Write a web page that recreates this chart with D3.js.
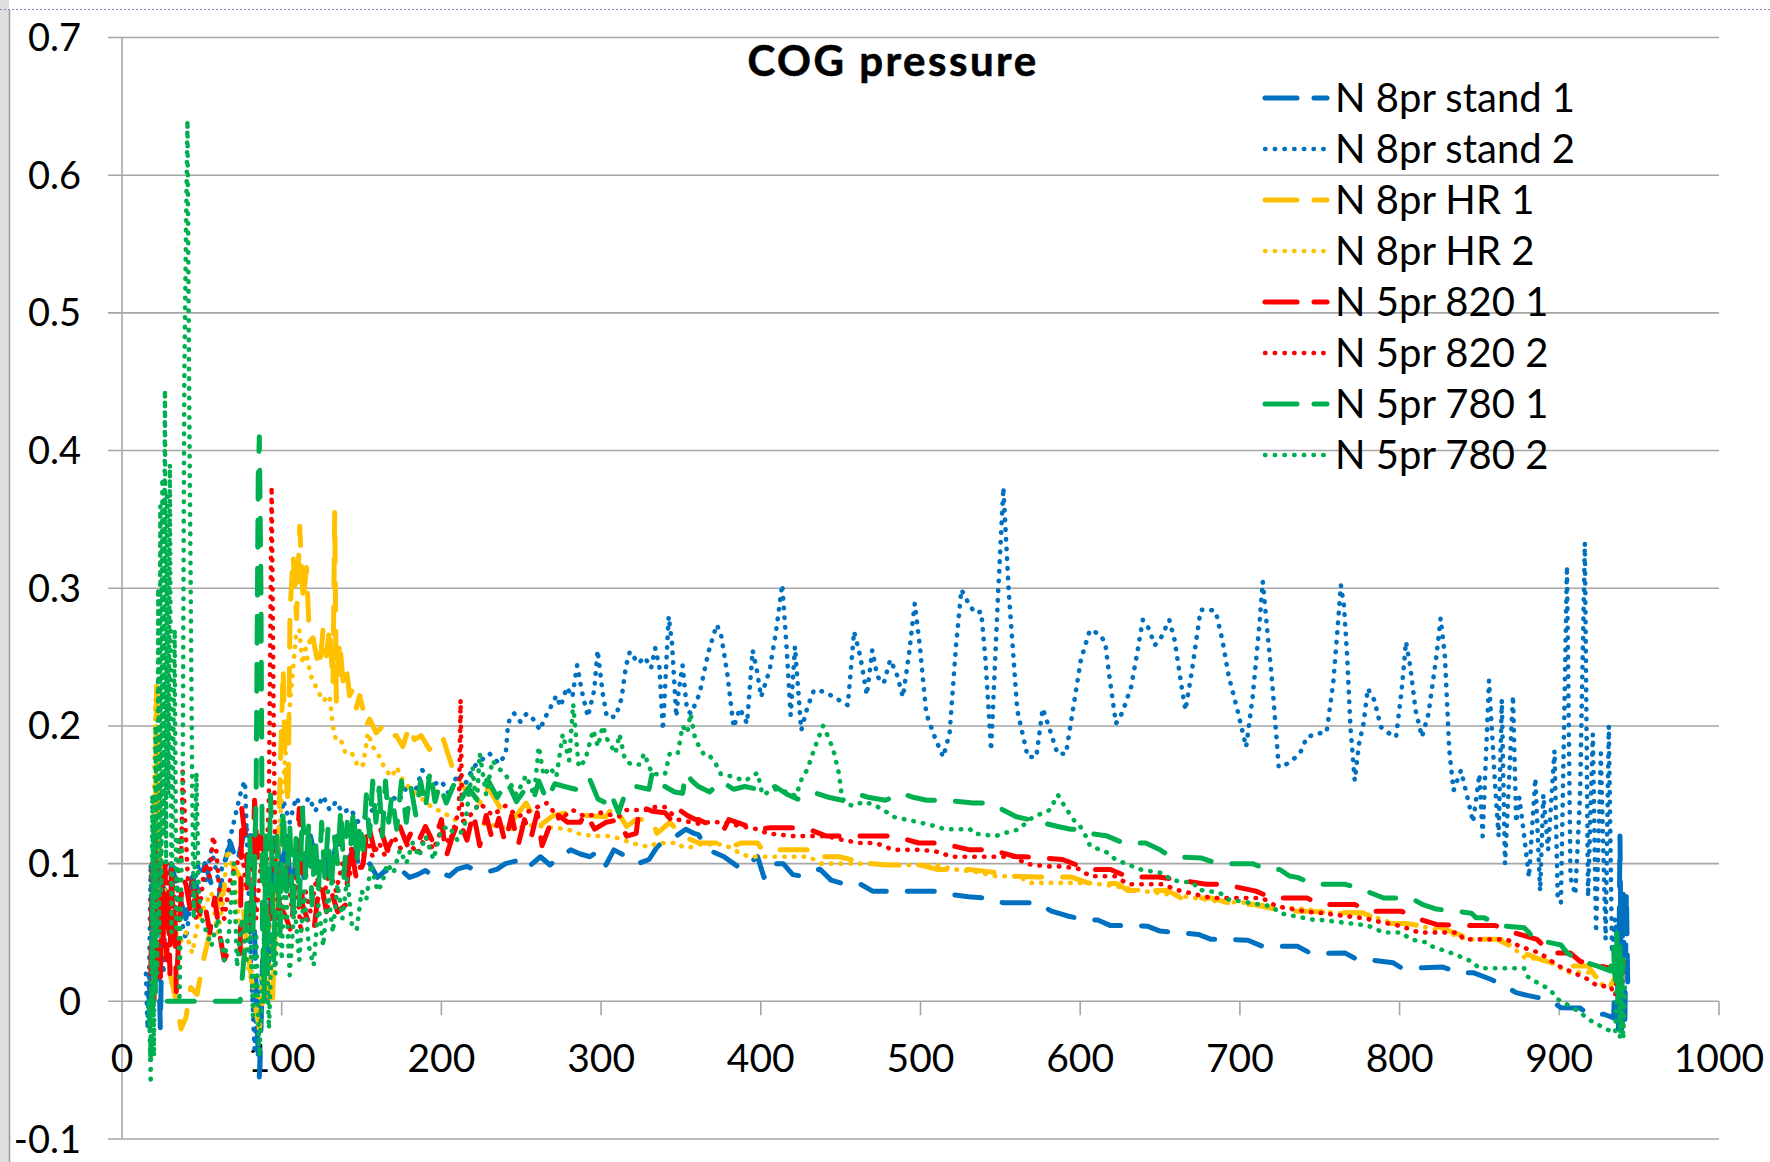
<!DOCTYPE html>
<html><head><meta charset="utf-8">
<script src="https://cdn.jsdelivr.net/npm/d3@7"></script>
<style>
html,body{margin:0;padding:0;background:#fff;}
svg{display:block;}
text{font-family:Lato,"Open Sans",sans-serif;fill:#000;}
</style></head>
<body>
<svg id="chart" width="1770" height="1162"></svg>
<script>
// ---------- DATA ----------
const chartTitle = "COG pressure";
const seriesNames = ["N 8pr stand 1","N 8pr stand 2","N 8pr HR 1","N 8pr HR 2","N 5pr 820 1","N 5pr 820 2","N 5pr 780 1","N 5pr 780 2"];
const xTicks = [0,100,200,300,400,500,600,700,800,900,1000];
const yTicks = [-0.1,0,0.1,0.2,0.3,0.4,0.5,0.6,0.7];

const stand1 = [[17,0],[18,0.025],[19,-0.012],[20,0.03],[21,0.11],[22,0.12],[23,0.03],[24,-0.02],[25,0.05],[26,0.09],[28,0.07],[31,0.1],[35,0.08],[40,0.06],[44,0.09],[48,0.08],[52,0.1],[56,0.085],[60,0.07],[64,0.1],[68,0.115],[72,0.1],[76,0.12],[80,0.13],[82,0.1],[83,0.05],[84,0.01],[85,-0.03],[86,-0.055],[87,-0.02],[88,0.03],[89,0.01],[90,0.06],[91,0.0],[92,0.04],[94,0.1],[96,0.07],[98,0.11],[100,0.09],[103,0.12],[106,0.08],[110,0.11],[114,0.09],[118,0.12],[122,0.1],[126,0.11],[130,0.09],[135,0.12],[140,0.1],[145,0.11],[150,0.095],[155,0.1],[160,0.09],[165,0.095],[170,0.092],[175,0.095],[180,0.09],[185,0.092],[190,0.095],[195,0.091],[200,0.093],[205,0.091],[210,0.096],[216,0.098],[222,0.095],[229,0.094],[235,0.096],[240,0.1],[247,0.102],[253,0.096],[262,0.105],[268,0.099],[274,0.105],[281,0.11],[287,0.107],[293,0.105],[298,0.109],[303,0.099],[308,0.11],[316,0.105],[323,0.1],[330,0.103],[335,0.112],[341,0.118],[347,0.12],[353,0.125],[358,0.122],[361,0.121],[365,0.113],[369,0.109],[377,0.105],[383,0.1],[388,0.096],[398,0.105],[402,0.09],[406,0.1],[414,0.1],[420,0.092],[425,0.091],[437,0.096],[444,0.088],[450,0.086],[461,0.086],[470,0.08],[479,0.08],[488,0.08],[500,0.08],[510,0.08],[520,0.0775],[530,0.076],[541,0.075],[552,0.0715],[562,0.0715],[573,0.0715],[582,0.0655],[592,0.062],[602,0.0594],[611,0.059],[619,0.055],[632,0.055],[642,0.0546],[650,0.051],[661,0.0498],[674,0.0486],[682,0.045],[693,0.045],[705,0.0444],[714,0.04],[722,0.04],[736,0.04],[744,0.035],[754,0.0348],[766,0.035],[774,0.03],[784,0.0297],[796,0.028],[801,0.0244],[815,0.0244],[827,0.0249],[837,0.0208],[846,0.0208],[857,0.016],[864,0.0123],[873,0.0063],[880,0.0043],[894,0.001],[901,-0.0046],[913,-0.0048],[918,-0.0094],[928,-0.0094],[934,-0.012],[936,0.05],[937,-0.02],[938,0.12],[939,-0.02],[940,0.08],[941,-0.02],[942,0.08],[943,0.0]];

const stand2 = [[15,0.02],[16,-0.02],[17,0.02],[18,0.1],[19,0.0],[20,0.13],[21,0.03],[22,0.13],[23,0.05],[24,0.1],[26,0.02],[28,0.09],[30,0.06],[33,0.1],[36,0.065],[40,0.045],[44,0.08],[48,0.1],[52,0.085],[56,0.11],[60,0.09],[64,0.1],[68,0.12],[72,0.14],[75,0.155],[77,0.16],[79,0.09],[81,0.02],[83,-0.035],[85,0.01],[87,-0.02],[89,0.05],[91,0.02],[93,0.08],[95,0.12],[98,0.1],[101,0.146],[105,0.13],[109,0.148],[113,0.14],[117,0.148],[121,0.138],[126,0.149],[130,0.139],[134,0.145],[138,0.137],[143,0.14],[148,0.13],[153,0.135],[158,0.14],[163,0.145],[168,0.15],[173,0.145],[178,0.155],[183,0.15],[188,0.168],[192,0.162],[196,0.158],[200,0.16],[205,0.15],[210,0.165],[215,0.158],[220,0.17],[224,0.174],[230,0.18],[236.3,0.1725],[240.3,0.18],[241.6,0.199],[243,0.2066],[245.6,0.209],[249.5,0.203],[253.4,0.209],[257.4,0.205],[261.9,0.197],[264,0.204],[268,0.2127],[272,0.222],[274.6,0.214],[278.5,0.228],[282,0.221],[285,0.244],[287.8,0.226],[291.7,0.2066],[295.7,0.226],[297.8,0.255],[301,0.2236],[303.6,0.2066],[309,0.2066],[312.8,0.22],[315.5,0.243],[318,0.254],[323.3,0.2455],[327.3,0.25],[331.3,0.242],[333.9,0.2565],[336.5,0.243],[338.7,0.197],[340.5,0.238],[342.3,0.2796],[344.4,0.26],[347.1,0.2066],[348.4,0.2236],[351,0.244],[353.8,0.2114],[356.4,0.209],[361.7,0.2236],[367,0.2528],[372.4,0.2735],[375,0.267],[379,0.238],[383,0.199],[386.9,0.2127],[391.4,0.2017],[394.9,0.255],[397.5,0.2406],[400.2,0.221],[405.5,0.2406],[409.4,0.2674],[413.4,0.3027],[416.1,0.2577],[418.7,0.2078],[421.4,0.2577],[425.3,0.1968],[429.3,0.214],[433.3,0.226],[439.9,0.2248],[449.1,0.2187],[454.5,0.215],[458.4,0.2686],[462.4,0.25],[466.4,0.2224],[469.8,0.255],[473,0.2358],[477,0.231],[481,0.248],[485,0.2382],[489,0.221],[493,0.254],[496.4,0.289],[499.6,0.2577],[503.6,0.209],[508.9,0.192],[514.2,0.1774],[518.2,0.1944],[522.2,0.2577],[525.6,0.299],[530.1,0.289],[534.1,0.282],[538,0.283],[540.7,0.248],[544.2,0.1822],[548.7,0.299],[551.9,0.3732],[555.3,0.2966],[560.6,0.2114],[567.2,0.1774],[572.5,0.1774],[576.5,0.2127],[580.5,0.199],[585.8,0.1798],[591.1,0.1798],[596.4,0.2187],[600.4,0.248],[606.1,0.2697],[611.6,0.267],[615.6,0.261],[618.3,0.2357],[622.4,0.2017],[626.5,0.21],[631.9,0.2284],[636,0.255],[639.2,0.277],[642.8,0.271],[646.8,0.2587],[650.9,0.2648],[655.8,0.277],[659.1,0.2624],[663.2,0.2308],[665.9,0.2114],[670,0.2405],[675.4,0.2842],[680.8,0.2847],[684.9,0.283],[689,0.2624],[693.1,0.2357],[698.5,0.2114],[703.9,0.1847],[708,0.2211],[712.1,0.2721],[714.3,0.3049],[717.5,0.2648],[720.3,0.2308],[724.3,0.1701],[729.8,0.1726],[733.9,0.1762],[738,0.1811],[742,0.192],[748.8,0.1944],[754.3,0.1956],[758.4,0.2308],[761.1,0.2697],[763.2,0.3024],[765.2,0.2867],[767.3,0.2478],[769.2,0.1993],[771.9,0.1604],[774.6,0.1871],[777.4,0.2017],[780.1,0.2272],[784.2,0.2187],[788.2,0.1993],[793.7,0.1944],[797.8,0.192],[801.3,0.226],[804,0.2612],[806.7,0.243],[810,0.2114],[814,0.192],[818.1,0.209],[823,0.2502],[825.7,0.2782],[828.4,0.2502],[831.1,0.1823],[833.8,0.1531],[838.4,0.1677],[842.5,0.148],[846,0.13],[850,0.165],[852,0.12],[856,0.233],[860,0.153],[862,0.12],[864,0.219],[866,0.1],[868,0.148],[871,0.222],[873,0.13],[875,0.148],[878,0.12],[881,0.09],[885,0.162],[888,0.08],[890,0.15],[893,0.11],[897,0.182],[899,0.075],[901,0.0715],[904.8,0.316],[907,0.09],[910,0.0775],[913,0.15],[916,0.333],[918,0.076],[921,0.194],[923,0.05],[926,0.18],[929,0.045],[931,0.2],[933,0.035],[935,0.06],[937,0.04]];

const hr1 = [[20,0.0],[21,0.12],[21.7,0.236],[22.5,0.16],[24,0.08],[26,0.04],[30,0.02],[34,0.0],[37,-0.02],[40,-0.012],[43,0.01],[47,0.005],[51,0.03],[55,0.05],[60,0.07],[65,0.085],[70,0.098],[74,0.09],[77,0.055],[80,0.026],[83,0.0],[86,-0.02],[88,0.0],[91,0.01],[94,-0.005],[96,0.05],[98,0.12],[100.9,0.242],[102,0.18],[104,0.143],[105.2,0.283],[107.2,0.324],[109.3,0.278],[111.3,0.345],[113.4,0.29],[115.5,0.315],[117.5,0.261],[119.6,0.264],[121.7,0.251],[123.8,0.242],[125.9,0.27],[128,0.251],[130,0.272],[132.1,0.23],[133.2,0.355],[134.2,0.218],[136.3,0.262],[138.4,0.232],[140.5,0.242],[142.5,0.222],[144.6,0.227],[146.7,0.213],[148.8,0.222],[150.9,0.212],[152.9,0.2],[155,0.205],[159.2,0.195],[163.3,0.2],[167.5,0.192],[171.7,0.193],[175.8,0.185],[180,0.2],[183.1,0.19],[187.3,0.193],[192.5,0.183],[196.7,0.19],[200.8,0.192],[204,0.18],[208,0.166],[214,0.155],[220,0.15],[226,0.142],[229,0.156],[237,0.14],[245,0.132],[253,0.144],[261,0.127],[270,0.135],[279,0.137],[290,0.135],[303,0.134],[308,0.142],[316,0.127],[322,0.132],[332,0.132],[335,0.122],[343,0.13],[351,0.12],[361,0.115],[372,0.115],[380,0.112],[388,0.115],[398,0.115],[401,0.11],[406,0.11],[420,0.11],[430,0.11],[433,0.105],[438,0.105],[449,0.105],[460,0.102],[469,0.1],[480,0.099],[500,0.099],[511,0.0957],[520,0.0957],[530,0.0957],[544,0.094],[557,0.091],[573,0.0903],[594,0.0903],[606,0.0855],[623,0.0855],[630,0.0804],[655,0.0804],[663,0.075],[682,0.075],[697,0.0703],[709,0.0703],[728,0.0655],[742,0.0655],[758,0.0643],[777,0.0643],[790,0.0565],[804,0.0565],[815,0.0546],[823,0.0546],[845,0.045],[861,0.045],[878,0.035],[888,0.0304],[902,0.0256],[918,0.0256],[924,0.016],[932,0.011],[936,0.02],[938,0.005],[940,0.03]];

const hr2 = [[19,0.05],[20,0.15],[21,0.22],[22,0.1],[23,0.18],[24,0.06],[26,0.1],[28,0.05],[31,0.08],[35,0.04],[40,0.05],[44,0.035],[48,0.06],[52,0.07],[56,0.079],[60,0.05],[63,0.07],[66,0.11],[70,0.093],[74,0.05],[78,0.03],[82,0.01],[86,0.0],[89,0.03],[92,0.01],[95,0.06],[98,0.12],[101,0.16],[104,0.2],[107,0.24],[109,0.266],[111,0.27],[113,0.245],[115,0.256],[118,0.237],[122,0.227],[126,0.218],[130,0.222],[132,0.2],[134,0.19],[137,0.19],[140,0.18],[144,0.18],[148,0.17],[151,0.172],[154,0.195],[157,0.185],[161,0.178],[165,0.168],[169,0.163],[172,0.17],[176,0.16],[180,0.155],[185,0.15],[190,0.145],[195,0.14],[200,0.138],[208,0.132],[220,0.13],[232,0.128],[245,0.125],[255,0.128],[263,0.127],[279,0.125],[285,0.122],[295,0.12],[306,0.12],[312,0.118],[319,0.115],[330,0.112],[335,0.115],[348,0.115],[351,0.112],[356,0.112],[361,0.114],[377,0.114],[388,0.107],[393,0.105],[406,0.105],[430,0.105],[438,0.1],[446,0.1],[470,0.1],[480,0.099],[510,0.099],[520,0.096],[535,0.094],[547,0.0908],[562,0.0908],[568,0.086],[605,0.086],[620,0.084],[640,0.08],[660,0.077],[690,0.072],[700,0.072],[720,0.069],[740,0.067],[769,0.063],[780,0.063],[795,0.057],[812,0.055],[830,0.05],[842,0.045],[864,0.045],[870,0.04],[878,0.032],[891,0.03],[900,0.025],[905,0.021],[921,0.021],[927,0.012],[932,0.011],[936,0.02],[938,0.005],[940,0.015]];

const p820a = [[18,0.02],[19,0.1],[20,0.0],[21,0.12],[22,0.03],[23,0.1],[24,0.01],[25,0.09],[26,0.04],[27,0.1],[28,0.03],[29,0.08],[30,0.02],[31,0.1],[32,0.05],[33,0.07],[34,0.007],[36,0.06],[38,0.09],[40,0.085],[43,0.065],[46,0.08],[49,0.062],[52,0.07],[55,0.05],[58,0.075],[61,0.05],[64,0.03],[66,0.035],[70,0.03],[74,0.035],[75,0.14],[77,0.12],[79,0.09],[81,0.05],[83,0.146],[85,0.1],[87,0.12],[90,0.1],[93,0.06],[96,0.1],[99,0.07],[103,0.06],[106,0.05],[109,0.1],[111,0.14],[113,0.07],[116,0.06],[120,0.05],[123,0.08],[125,0.085],[128,0.065],[131,0.08],[135,0.065],[140,0.07],[143,0.115],[147,0.087],[151,0.1],[154,0.13],[158,0.11],[162,0.125],[166,0.11],[170,0.12],[174,0.127],[178,0.115],[182,0.125],[186,0.117],[190,0.127],[195,0.115],[200,0.132],[203,0.105],[207,0.12],[211,0.132],[216,0.117],[220,0.137],[224,0.113],[228,0.135],[232,0.117],[236,0.133],[240,0.115],[244,0.135],[248,0.113],[252,0.132],[256,0.118],[260,0.137],[263,0.113],[271,0.137],[279,0.13],[287,0.13],[290,0.137],[296,0.125],[303,0.13],[311,0.132],[316,0.12],[322,0.122],[324,0.142],[332,0.138],[340,0.137],[345,0.13],[349,0.139],[354,0.135],[359,0.132],[361,0.132],[370,0.127],[377,0.125],[380,0.132],[390,0.128],[398,0.125],[406,0.126],[422,0.126],[430,0.125],[441,0.12],[451,0.12],[472,0.12],[483,0.12],[499,0.115],[512,0.115],[531,0.11],[544,0.11],[560,0.105],[565,0.105],[589,0.103],[600,0.098],[606,0.0957],[619,0.0957],[630,0.0903],[649,0.0903],[660,0.0884],[679,0.085],[690,0.085],[710,0.08],[720,0.075],[742,0.075],[750,0.0703],[772,0.0703],[780,0.0655],[801,0.0655],[810,0.0606],[823,0.0558],[840,0.055],[860,0.055],[871,0.05],[886,0.045],[895,0.035],[907,0.035],[913,0.029],[932,0.024],[935,0.024],[937,0.04],[939,0.02],[941,0.043]];

const p820b = [[18,0.0],[19,0.09],[20,0.02],[21,0.12],[22,0.05],[23,0.1],[24,0.04],[26,0.08],[28,0.1],[30,0.06],[32,0.09],[34,0.05],[36,0.12],[37,0.1],[38,0.167],[40,0.12],[42,0.07],[44,0.09],[46,0.06],[49,0.07],[52,0.1],[55,0.09],[57,0.12],[59,0.11],[61,0.08],[64,0.06],[68,0.09],[72,0.1],[75,0.11],[78,0.08],[81,0.11],[84,0.06],[87,0.1],[90,0.08],[92,0.15],[93.7,0.374],[95,0.2],[96,0.1],[98,0.06],[100,0.09],[103,0.1],[106,0.07],[109,0.09],[112,0.05],[115,0.08],[118,0.065],[122,0.09],[126,0.075],[130,0.095],[134,0.08],[138,0.1],[142,0.09],[146,0.105],[150,0.095],[153,0.12],[157,0.105],[161,0.115],[165,0.105],[170,0.12],[175,0.11],[180,0.115],[185,0.107],[190,0.12],[195,0.11],[200,0.125],[205,0.115],[209,0.13],[211,0.14],[212,0.219],[213,0.13],[218,0.135],[224,0.144],[232,0.135],[240,0.142],[248,0.134],[258,0.14],[266,0.144],[274,0.132],[282,0.139],[290,0.134],[300,0.137],[311,0.134],[316,0.139],[330,0.139],[332,0.141],[340,0.141],[348,0.132],[361,0.129],[367,0.13],[377,0.13],[388,0.127],[398,0.125],[404,0.122],[420,0.12],[425,0.12],[441,0.12],[452,0.117],[462,0.115],[472,0.115],[483,0.11],[499,0.11],[509,0.109],[520,0.105],[536,0.105],[547,0.105],[560,0.105],[565,0.1],[579,0.098],[589,0.098],[600,0.096],[606,0.0908],[622,0.0908],[630,0.085],[652,0.085],[660,0.081],[682,0.075],[714,0.075],[723,0.069],[742,0.065],[752,0.064],[780,0.06],[782,0.059],[801,0.0546],[812,0.05],[837,0.05],[840,0.045],[867,0.045],[875,0.04],[888,0.035],[899,0.026],[918,0.016],[924,0.011],[932,0.011],[935,0.004],[937,0.03],[939,0.01],[941,0.035]];

const p780a = [[17,0.0],[18,-0.04],[19,0.05],[20,0.13],[21,0.0],[22,0.0],[30,0.0],[40,0.0],[50,0.0],[60,0.0],[70,0.0],[74,0.0],[77,0.04],[80,0.12],[82,0.05],[84,0.15],[85.3,0.38],[86,0.41],[87,0.3],[88,0.05],[89,0.0],[90,0.12],[91,0.02],[93,0.15],[95,0.03],[97,0.12],[99,0.05],[101,0.14],[103,0.08],[105,0.13],[107,0.06],[109,0.12],[111,0.07],[113,0.14],[115,0.09],[117,0.13],[119,0.07],[121,0.12],[123,0.08],[125,0.13],[127,0.09],[129,0.125],[131,0.08],[133,0.12],[135,0.1],[137,0.14],[139,0.09],[141,0.13],[143,0.11],[145,0.14],[147,0.1],[149,0.13],[151,0.11],[153,0.15],[155,0.12],[157,0.16],[159,0.13],[161,0.155],[163,0.12],[165,0.16],[167,0.13],[169,0.15],[172,0.125],[175,0.16],[178,0.13],[181,0.155],[184,0.135],[187,0.16],[190,0.14],[193,0.168],[196,0.145],[199,0.158],[203,0.144],[208,0.158],[212,0.146],[217,0.155],[222,0.147],[226,0.158],[229,0.161],[235,0.148],[241,0.16],[247,0.145],[253,0.155],[258,0.148],[261,0.16],[266,0.146],[271,0.158],[277,0.156],[284,0.154],[290,0.154],[293,0.161],[298,0.147],[303,0.144],[306,0.151],[311,0.137],[316,0.154],[322,0.156],[330,0.154],[332,0.166],[336,0.16],[340,0.156],[346,0.152],[351,0.151],[353,0.166],[357,0.16],[361,0.156],[368,0.152],[375,0.16],[383,0.154],[390,0.156],[398,0.154],[409,0.156],[417,0.15],[425,0.146],[435,0.151],[443,0.148],[451,0.146],[459,0.151],[468,0.148],[478,0.146],[488,0.151],[496,0.148],[504,0.146],[515,0.146],[533,0.144],[541,0.144],[550,0.14],[560,0.134],[568,0.132],[586,0.127],[594,0.125],[601,0.125],[606,0.122],[617,0.12],[627,0.115],[641,0.115],[650,0.11],[657,0.105],[676,0.104],[686,0.1],[708,0.1],[717,0.0957],[725,0.0957],[731,0.091],[736,0.09],[746,0.085],[766,0.085],[777,0.081],[790,0.075],[807,0.075],[815,0.07],[823,0.067],[834,0.0655],[845,0.064],[848,0.0606],[853,0.0606],[863,0.055],[878,0.0534],[881,0.05],[884,0.045],[901,0.041],[905,0.035],[912,0.03],[924,0.0256],[932,0.022],[934,0.04],[935,0.01],[936,0.05],[937,0.0],[938,0.04],[939,0.006],[940,0.03]];

const p780b = [[17,0.0],[18,-0.06],[19,0.15],[20,-0.04],[21,0.2],[22,0.02],[22.7,0.3],[23.3,0.05],[24,0.36],[24.6,0.08],[25.3,0.38],[26,0.12],[26.9,0.444],[27.6,0.1],[28.3,0.37],[29,0.15],[30,0.39],[31,0.05],[32,0.18],[33,0.27],[34,0.05],[35,0.12],[36,0.0],[37,0.08],[38,0.15],[39,0.45],[40,0.55],[41,0.64],[42,0.45],[43,0.3],[44,0.15],[45,0.06],[46.6,0.166],[48,0.08],[50,0.06],[53,0.05],[56,0.04],[60,0.06],[64,0.03],[67,0.05],[70,0.1],[72,0.025],[75,0.06],[78,0.03],[80,0.07],[82,-0.01],[84,0.05],[86,-0.04],[88,0.02],[90,0.07],[92,-0.02],[94,0.05],[96,0.02],[98,0.08],[100,0.03],[102,0.1],[105,0.019],[108,0.07],[111,0.03],[114,0.08],[117,0.04],[120,0.026],[123,0.07],[126,0.04],[129,0.08],[132,0.05],[135,0.085],[138,0.06],[141,0.09],[144,0.055],[147,0.052],[150,0.08],[153,0.074],[156,0.1],[160,0.08],[163,0.086],[166,0.1],[170,0.093],[174,0.11],[178,0.1],[182,0.115],[186,0.105],[190,0.12],[195,0.103],[200,0.125],[205,0.127],[210,0.117],[215,0.13],[219.5,0.17],[222,0.14],[224,0.18],[228,0.15],[232,0.175],[235,0.17],[240,0.165],[247,0.15],[253,0.164],[258,0.15],[261,0.185],[264,0.164],[268,0.17],[272,0.163],[276,0.194],[280,0.175],[282.5,0.216],[286,0.17],[290,0.175],[295,0.197],[298,0.185],[301,0.2],[304,0.19],[309,0.18],[311.5,0.194],[315,0.175],[319,0.172],[324,0.172],[327,0.18],[332,0.165],[340,0.165],[343,0.18],[348,0.18],[351,0.2],[354,0.195],[356,0.209],[359,0.19],[364,0.18],[367,0.18],[372,0.172],[375,0.165],[383,0.163],[390,0.16],[398,0.166],[401,0.15],[409,0.154],[416,0.152],[422,0.149],[426,0.163],[429,0.168],[434,0.185],[439,0.2],[443,0.19],[446,0.18],[449,0.165],[451,0.146],[457,0.142],[465,0.145],[472,0.142],[478,0.138],[483,0.134],[491,0.132],[499,0.13],[510,0.127],[515,0.125],[531,0.125],[533,0.122],[547,0.12],[552,0.122],[562,0.125],[568,0.132],[575,0.136],[581,0.139],[586,0.15],[589,0.144],[594,0.135],[597,0.13],[600,0.127],[605,0.117],[606,0.113],[617,0.108],[622,0.103],[633,0.098],[638,0.0957],[652,0.093],[657,0.088],[671,0.086],[674,0.081],[687,0.079],[693,0.074],[720,0.069],[725,0.064],[747,0.059],[752,0.059],[780,0.055],[790,0.05],[801,0.05],[807,0.045],[818,0.0425],[820,0.04],[835,0.034],[845,0.029],[850,0.024],[878,0.024],[880,0.018],[887,0.013],[894,0.0087],[899,0.0015],[906,-0.003],[913,-0.008],[918,-0.013],[929,-0.02],[935,-0.023],[937,0.04],[938,-0.027],[939,0.02],[940,-0.0275],[941,0.01]];

const seriesData = [stand1, stand2, hr1, hr2, p820a, p820b, p780a, p780b];
const seriesColors = ["#0070C0","#0070C0","#FFC000","#FFC000","#FF0000","#FF0000","#00B050","#00B050"];
const seriesDashed = [true,false,true,false,true,false,true,false];

// ---------- LAYOUT ----------
const svg = d3.select("#chart");
const x = d3.scaleLinear().domain([0,1000]).range([122,1719]);
const y = d3.scaleLinear().domain([-0.1,0.7]).range([1139,37.5]);
const gridColor = "#a6a6a6";

// chart frame bits
const frame = svg.append("g");
frame.append("rect").attr("x",0).attr("y",0).attr("width",9).attr("height",1162).attr("fill","#dedede");
frame.append("line").attr("x1",9.5).attr("x2",9.5).attr("y1",10).attr("y2",1162).attr("stroke","#9a9a9a").attr("stroke-width",1.5);
frame.append("line").attr("x1",0).attr("x2",1770).attr("y1",9.5).attr("y2",9.5).attr("stroke","#7f8fb0").attr("stroke-width",1.2).attr("stroke-dasharray","2,2");

// gridlines (with outside tick stubs)
svg.append("g").selectAll("line").data(yTicks).join("line")
  .attr("x1",108).attr("x2",x(1000))
  .attr("y1",d=>y(d)).attr("y2",d=>y(d))
  .attr("stroke",gridColor).attr("stroke-width",1.6);

// y axis line
svg.append("line").attr("x1",x(0)).attr("x2",x(0)).attr("y1",y(0.7)).attr("y2",y(-0.1))
  .attr("stroke",gridColor).attr("stroke-width",1.6);

// x tick marks at y=0
svg.append("g").selectAll("line").data(xTicks.slice(1)).join("line")
  .attr("x1",d=>x(d)).attr("x2",d=>x(d)).attr("y1",y(0)).attr("y2",y(0)+14)
  .attr("stroke",gridColor).attr("stroke-width",1.6);

// y labels
svg.append("g").selectAll("text").data(yTicks).join("text")
  .attr("x",81).attr("y",d=>y(d)+13.5)
  .attr("text-anchor","end").attr("font-size",38)
  .text(d=>d===0?"0":d3.format(".1f")(d).replace("−","-"));

// x labels
svg.append("g").selectAll("text").data(xTicks).join("text")
  .attr("x",d=>x(d)).attr("y",1071.5)
  .attr("text-anchor","middle").attr("font-size",39)
  .text(d=>String(d));

// title
svg.append("text").attr("x",893).attr("y",76).attr("text-anchor","middle")
  .attr("font-size",42).attr("font-weight","bold").attr("letter-spacing",2.5)
  .attr("stroke","#000").attr("stroke-width",0.6)
  .text(chartTitle);

// series
const line = d3.line().x(d=>x(d[0])).y(d=>y(d[1]));
const plot = svg.append("g");
seriesData.forEach((data,i)=>{
  plot.append("path").attr("d",line(data))
    .attr("fill","none").attr("stroke",seriesColors[i])
    .attr("stroke-width",seriesDashed[i]?5:4.6)
    .attr("stroke-linejoin","round")
    .attr("stroke-linecap","round")
    .attr("stroke-dasharray",seriesDashed[i]?"27,21":"0.5,9.2");
});

// legend
const lg = svg.append("g");
seriesNames.forEach((name,i)=>{
  const cy = 98 + i*51;
  lg.append("line").attr("x1",1265).attr("x2",1327).attr("y1",cy).attr("y2",cy)
    .attr("stroke",seriesColors[i]).attr("stroke-width",seriesDashed[i]?5:4.4)
    .attr("stroke-linecap","round")
    .attr("stroke-dasharray",seriesDashed[i]?"32,17":"0.5,9.2");
  lg.append("text").attr("x",1335).attr("y",cy+14).attr("font-size",40).text(name);
});
</script>
</body></html>
